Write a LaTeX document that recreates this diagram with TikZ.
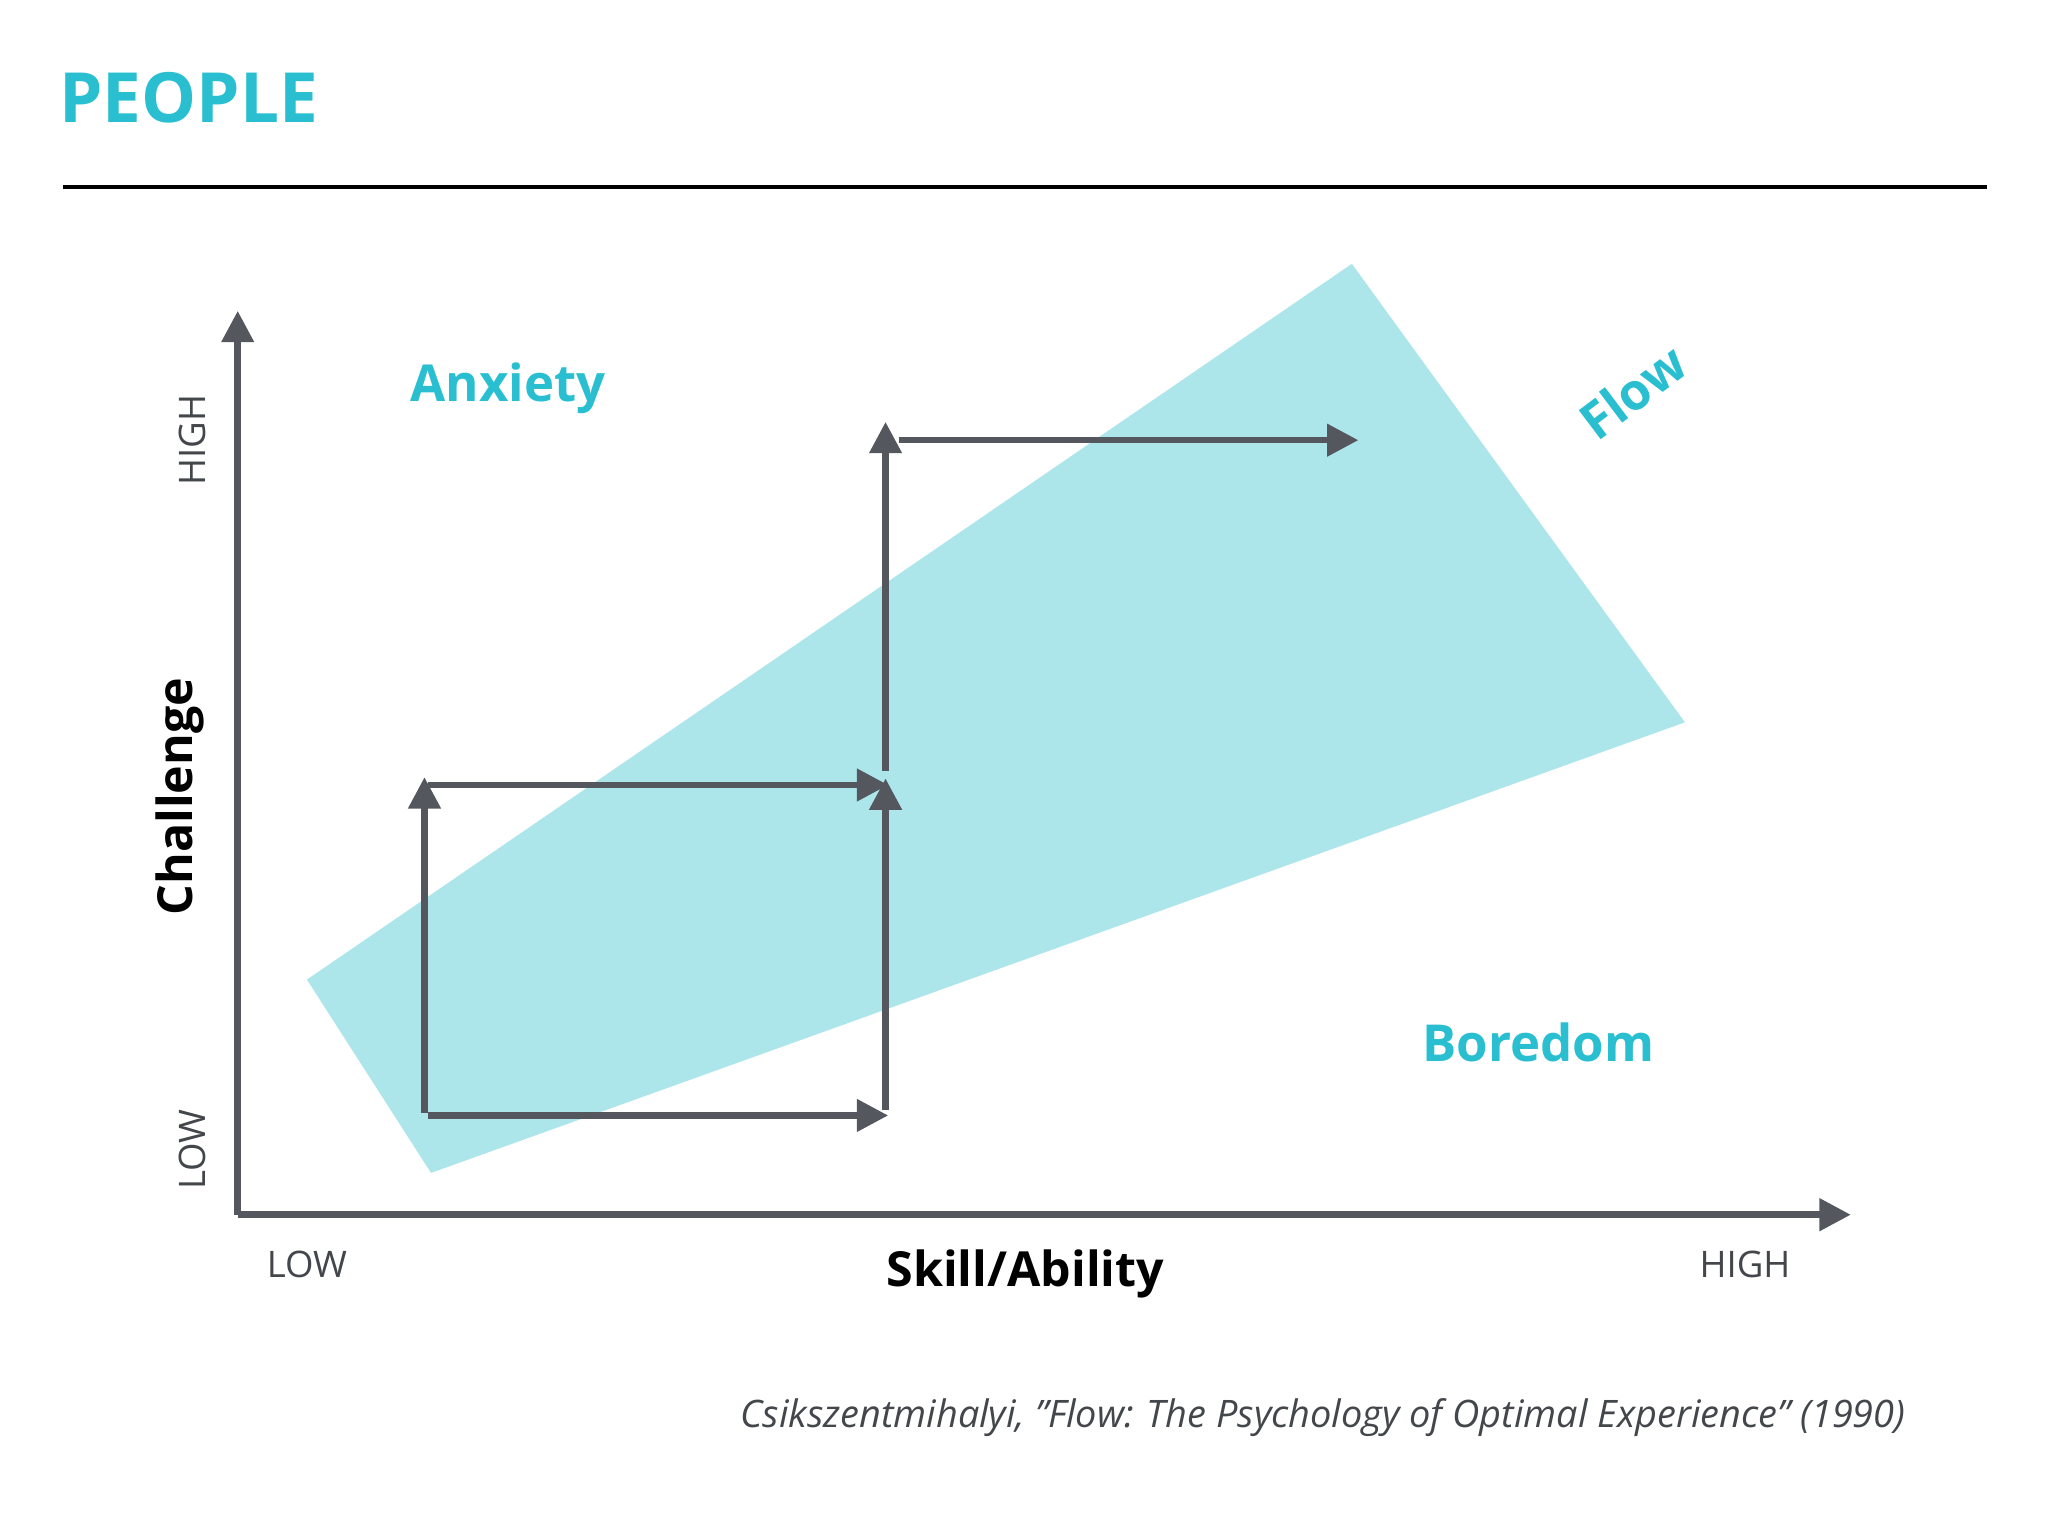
\documentclass[tikz,border=0pt]{standalone}
\usepackage{fontspec}
\setmainfont{Open Sans}
\usetikzlibrary{arrows.meta}
\definecolor{cy}{HTML}{29BFD0}
\definecolor{band}{HTML}{ACE6EB}
\definecolor{ax}{HTML}{54585E}
\tikzset{
 arr/.style={draw=ax,line width=5pt,-{Triangle[length=24pt,width=24pt]}},
 lab/.style={text=cy,font=\fontsize{39}{46}\selectfont\bfseries},
 small/.style={text=ax!80!black,font=\fontsize{28}{34}\selectfont}
}
\begin{document}
\begin{tikzpicture}[x=1pt,y=-1pt]
\useasboundingbox (0,0) rectangle (1568,1176);
\fill[white] (0,0) rectangle (1568,1176);
\node[anchor=west,text=cy,font=\fontsize{53}{60}\selectfont\bfseries] (title) at (42,75) {PEOPLE};
\coordinate (l1) at (48,143); \coordinate (l2) at (1521,143);
\draw[line width=3pt] (l1) -- (l2);
\fill[band] (235,750) -- (1035,202) -- (1290,553) -- (330,898) -- cycle;
\coordinate (o) at (182,930); \coordinate (ytop) at (182,238); \coordinate (xend) at (1417,930);
\draw[arr] (o) -- (ytop);
\draw[arr] (o) -- (xend);
\coordinate (a1) at (325,852); \coordinate (a2) at (325,595);
\coordinate (b1) at (328,601); \coordinate (b2) at (680,601);
\coordinate (c1) at (328,854); \coordinate (c2) at (680,854);
\coordinate (d1) at (678,850); \coordinate (d2) at (678,596);
\coordinate (e1) at (678,590); \coordinate (e2) at (678,323);
\coordinate (f1) at (688,337); \coordinate (f2) at (1040,337);
\draw[arr] (a1) -- (a2);
\draw[arr] (b1) -- (b2);
\draw[arr] (c1) -- (c2);
\draw[arr] (d1) -- (d2);
\draw[arr] (e1) -- (e2);
\draw[arr] (f1) -- (f2);
\node[lab] (anx) at (389,297) {Anxiety};
\node[lab] (bor) at (1178,798) {Boredom};
\node[lab,rotate=37] (flow) at (1250,300) {Flow};
\node[rotate=90,font=\fontsize{37}{44}\selectfont\bfseries] (ch) at (138,610) {Challenge};
\node[small,rotate=90] (hi) at (147,337) {HIGH};
\node[small,rotate=90] (lo) at (147,880) {LOW};
\node[small] (xlo) at (235,968) {LOW};
\node[small] (xhi) at (1336,968) {HIGH};
\node[font=\fontsize{37}{44}\selectfont\bfseries] (sk) at (785,975) {Skill/Ability};
\node[small,font=\fontsize{29}{35}\selectfont\itshape] (cit) at (1013,1085) {Csikszentmihalyi, \symbol{34}Flow: The Psychology of Optimal Experience\symbol{34} (1990)};
\end{tikzpicture}
\end{document}
